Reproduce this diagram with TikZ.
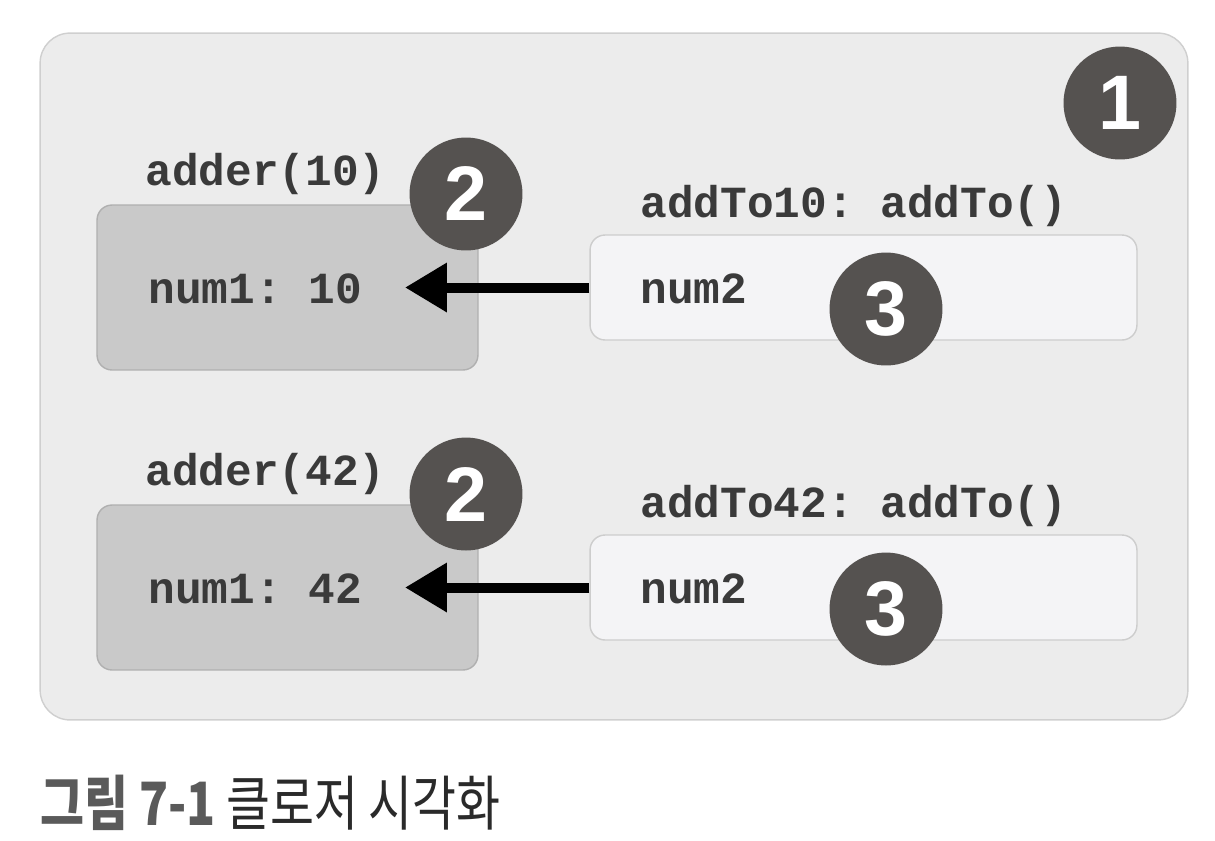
\documentclass[tikz,border=0pt]{standalone}
\usepackage{fontspec}
\setmainfont{Liberation Sans}
\setmonofont{Liberation Mono}
\newfontfamily\krfont[FakeStretch=0.8]{Noto Sans CJK KR}
\usetikzlibrary{arrows.meta,positioning}
\definecolor{panelfill}{HTML}{ECECEC}
\definecolor{paneledge}{HTML}{CFCFCF}
\definecolor{scopefill}{HTML}{C9C9C9}
\definecolor{scopeedge}{HTML}{B0B0B0}
\definecolor{fnfill}{HTML}{F4F4F6}
\definecolor{fnedge}{HTML}{CDCDCD}
\definecolor{badgefill}{HTML}{555250}
\definecolor{codeink}{HTML}{3A3A3A}
\definecolor{capgray}{HTML}{5A5A5A}
\definecolor{capink}{HTML}{2A2A2A}
\begin{document}
\begin{tikzpicture}[x=0.02cm,y=-0.02cm,
	codetext/.style={font=\ttfamily\bfseries\fontsize{25.3}{28}\selectfont,text=codeink,inner sep=0pt,anchor=base west},
	scopebox/.style={draw=scopeedge,fill=scopefill,rounded corners=0.3cm,line width=0.8pt,minimum width=7.62cm,minimum height=3.3cm},
	fnbox/.style={draw=fnedge,fill=fnfill,rounded corners=0.3cm,line width=0.8pt,minimum width=10.94cm,minimum height=2.1cm},
	badge/.style={circle,fill=badgefill,minimum size=2.26cm,inner sep=0pt,text=white,font=\bfseries\fontsize{44}{44}\selectfont},
	ref/.style={line width=0.2cm,-{Triangle[length=0.84cm,width=0.94cm]}}]
	\useasboundingbox (0,0) rectangle (1215,840);
	\node[draw=paneledge,fill=panelfill,rounded corners=0.6cm,line width=0.8pt,minimum width=22.96cm,minimum height=13.74cm] (panel) at (614,376.5) {};
	\node[badge] (badge1) at (1120,103) {1};
	
	\foreach \n/\y in {10/0,42/300}{
		\node[scopebox] (scope\n) at (287.5,287.5+\y) {};
		\node[fnbox] (fn\n) at (863.5,287.5+\y) {};
		\node[codetext] (adder\n) at (145,185+\y) {adder(\n)};
		\node[codetext] (addto\n) at (640,217+\y) {addTo\n: addTo()};
		\node[codetext] (num1\n) at (148,303+\y) {num1: \n};
		\node[codetext] (num2\n) at (640,303+\y) {num2};
		\coordinate (tip\n) at (405,287.5+\y);
		\draw[ref] (fn\n.west) -- (tip\n);
		\node[badge] (badgeA\n) at (466,194+\y) {2};
		\node[badge] (badgeB\n) at (886,309+\y) {3};
	};
	
	\node[anchor=base west,inner sep=0pt,font=\krfont\fontsize{34}{38}\selectfont,text=capink] (caption) at (40,825) {{\bfseries\color{capgray}그림 7-1} 클로저 시각화};
\end{tikzpicture}
\end{document}
